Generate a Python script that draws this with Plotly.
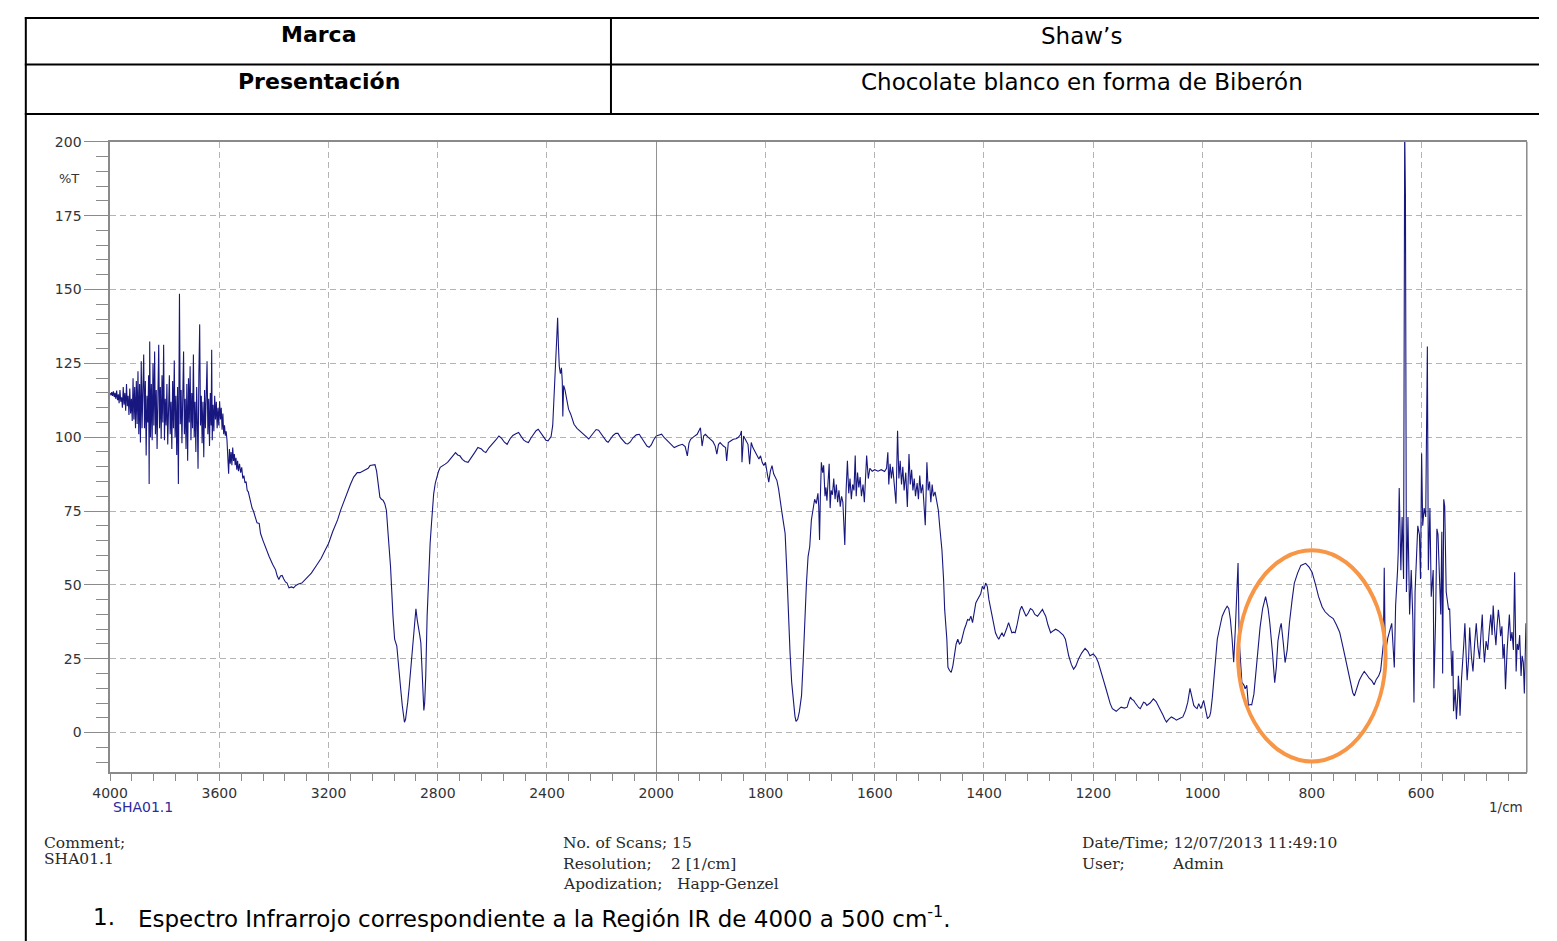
import plotly.graph_objects as go

W, H = 1557, 941


def px(x):
    return x / W


def py(y):
    return 1 - y / H


# ---------------------------------------------------------------------------
# IR spectrum (%T vs wavenumber, cm-1), sample SHA01.1
# ---------------------------------------------------------------------------

# 4000-3500 cm-1: noisy high-frequency end + start of the O-H band
band_noise_high = [
    (4000, 115.0), (3997, 114.2), (3994, 115.3), (3991, 114.0), (3988, 115.5),
    (3985, 113.6), (3982, 115.0), (3979, 113.0), (3976, 115.8), (3973, 112.5),
    (3970, 114.5), (3967, 111.5), (3964, 116.0), (3961, 112.0), (3958, 113.5),
    (3955, 110.0), (3952, 117.0), (3949, 111.0), (3946, 115.0), (3943, 109.0),
    (3940, 118.0), (3937, 110.5), (3934, 114.0), (3931, 107.5), (3928, 116.5),
    (3925, 108.0), (3922, 113.0), (3919, 105.5), (3916, 120.0), (3913, 106.0),
    (3910, 117.0), (3907, 103.0), (3904, 119.0), (3901, 104.5), (3898, 122.3),
    (3895, 101.0), (3892, 118.0), (3889, 98.2), (3886, 125.7), (3883, 103.0),
    (3880, 116.0), (3877, 128.0), (3874, 103.0), (3871, 119.0), (3868, 93.8),
    (3865, 114.0), (3862, 105.0), (3859, 121.0), (3857, 84.2), (3855, 132.4),
    (3852, 100.0), (3849, 118.0), (3846, 99.0), (3843, 125.0), (3840, 104.0),
    (3837, 129.0), (3834, 101.0), (3831, 116.0), (3828, 96.0), (3825, 124.0),
    (3822, 131.3), (3819, 103.0), (3816, 117.0), (3813, 99.5), (3810, 121.0),
    (3807, 105.0), (3804, 131.3), (3801, 99.0), (3798, 113.0), (3795, 104.0),
    (3792, 118.0), (3789, 97.5), (3786, 115.0), (3783, 121.0), (3780, 101.0),
    (3777, 112.0), (3774, 96.0), (3771, 119.0), (3768, 103.0), (3765, 126.0),
    (3762, 100.0), (3759, 114.0), (3756, 94.0), (3753, 117.0), (3750, 84.2),
    (3746, 148.6), (3743, 104.4), (3740, 116.0), (3737, 98.0), (3734, 122.0),
    (3731, 129.0), (3728, 101.0), (3725, 113.0), (3722, 96.0), (3719, 118.0),
    (3716, 92.0), (3713, 120.0), (3710, 105.0), (3707, 124.0), (3704, 99.0),
    (3701, 115.0), (3698, 103.0), (3695, 128.0), (3692, 100.0), (3689, 112.0),
    (3686, 95.0), (3683, 117.0), (3680, 102.0), (3678, 89.3), (3675, 121.0),
    (3672, 138.2), (3669, 104.0), (3666, 114.0), (3663, 98.0), (3660, 112.0),
    (3657, 93.2), (3654, 116.0), (3651, 103.0), (3648, 118.0), (3645, 125.7),
    (3642, 101.0), (3639, 113.0), (3636, 97.0), (3633, 115.0), (3630, 104.0),
    (3628, 129.6), (3626, 99.0), (3623, 111.0), (3620, 102.0), (3617, 114.0),
    (3614, 106.0), (3611, 112.0), (3608, 103.0), (3605, 110.0), (3602, 104.0),
    (3599, 112.2), (3596, 106.0), (3593, 110.0), (3590, 102.5), (3587, 108.0),
    (3584, 101.0), (3581, 104.0), (3578, 100.5), (3575, 102.0), (3572, 99.0),
    (3569, 94.5), (3566, 87.6), (3563, 96.0), (3560, 91.0), (3557, 95.0),
    (3554, 90.5), (3551, 96.5), (3548, 92.0), (3545, 94.3), (3542, 90.5),
    (3539, 93.0), (3536, 89.0), (3533, 92.0), (3530, 88.5), (3526, 91.0),
    (3522, 88.0), (3518, 89.8), (3514, 86.0), (3510, 87.0), (3506, 84.5),
    (3502, 85.0),
]

# 3500-3050 cm-1: broad O-H band
band_oh = [
    (3498, 82.0), (3494, 81.5), (3490, 80.0), (3485, 77.5), (3480, 76.0),
    (3475, 75.0), (3470, 73.5), (3462, 71.0), (3454, 70.8), (3449, 67.4),
    (3440, 65.0), (3430, 62.5), (3418, 59.7), (3405, 57.0), (3394, 55.1),
    (3388, 53.0), (3382, 51.8), (3376, 53.0), (3370, 53.2), (3364, 52.0),
    (3358, 51.0), (3352, 50.6), (3345, 49.0), (3336, 49.3), (3328, 49.0),
    (3320, 49.8), (3310, 50.3), (3298, 50.6), (3280, 52.3), (3263, 54.0),
    (3245, 56.5), (3227, 59.0), (3214, 61.5), (3200, 64.0), (3185, 68.0),
    (3167, 72.0), (3155, 75.5), (3143, 78.5), (3130, 82.0), (3120, 84.0),
    (3108, 86.5), (3095, 88.0), (3085, 88.0), (3075, 88.6), (3065, 89.0),
    (3055, 89.5),
]

# 3050-2780 cm-1: C-H stretching doublet
band_ch = [
    (3048, 90.4), (3040, 90.6), (3030, 90.7), (3024, 88.5), (3018, 83.0),
    (3012, 79.7), (3006, 79.0), (3000, 78.6), (2994, 77.5), (2988, 75.2),
    (2982, 67.4), (2973, 56.2), (2964, 39.4), (2958, 31.6), (2950, 29.3),
    (2945, 25.0), (2940, 19.2), (2935, 14.0), (2930, 9.2), (2926, 5.5),
    (2922, 3.5), (2918, 4.5), (2914, 7.0), (2910, 10.3), (2904, 16.0),
    (2898, 22.6), (2892, 30.0), (2886, 37.2), (2880, 41.9), (2875, 38.0),
    (2871, 35.0), (2866, 33.0), (2862, 30.4), (2857, 17.0), (2853, 9.0),
    (2851, 7.5), (2848, 10.0), (2844, 19.2), (2839, 39.4), (2833, 54.0),
    (2828, 64.0), (2823, 70.8), (2819, 76.0), (2815, 80.8), (2809, 84.5),
    (2803, 87.0), (2797, 88.5), (2791, 89.8), (2782, 90.5),
]

# 2780-2000 cm-1: baseline with fringes and the CO2 feature
band_plateau = [
    (2773, 90.9), (2764, 91.5), (2755, 92.6), (2745, 93.6), (2735, 94.8),
    (2727, 94.0), (2719, 93.7), (2710, 92.5), (2700, 91.8), (2689, 91.5),
    (2677, 93.0), (2665, 94.8), (2653, 96.5), (2640, 96.0), (2632, 95.2),
    (2624, 94.8), (2612, 96.5), (2600, 97.6), (2588, 99.0), (2576, 100.4),
    (2566, 99.6), (2556, 98.3), (2546, 97.6), (2535, 99.5), (2525, 100.6),
    (2514, 101.2), (2504, 101.6), (2494, 100.2), (2485, 99.0), (2476, 98.5),
    (2468, 98.2), (2458, 99.8), (2450, 101.0), (2440, 102.2), (2432, 102.7),
    (2422, 101.5), (2412, 100.0), (2404, 99.0), (2396, 98.8), (2390, 99.5),
    (2385, 100.2), (2379, 104.0), (2374, 112.0), (2369, 124.0), (2364, 134.0),
    (2361, 140.4), (2358, 131.0), (2355, 124.0), (2351, 121.5), (2347, 123.5),
    (2344, 119.0), (2342, 107.0), (2339, 117.5), (2334, 116.0), (2328, 113.0),
    (2321, 109.5), (2313, 107.8), (2307, 106.0), (2301, 104.4), (2290, 103.0),
    (2280, 102.2), (2271, 101.6), (2260, 100.5), (2247, 99.4), (2238, 100.5),
    (2228, 101.8), (2220, 102.6), (2211, 102.4), (2200, 101.0), (2190, 99.5),
    (2182, 98.6), (2176, 98.3), (2168, 99.2), (2158, 100.6), (2148, 101.3),
    (2140, 101.3), (2130, 99.8), (2120, 98.6), (2112, 97.9), (2104, 97.7),
    (2095, 98.4), (2085, 99.8), (2073, 100.8), (2062, 101.0), (2052, 99.5),
    (2043, 98.0), (2034, 97.0), (2026, 96.6), (2018, 97.4), (2010, 99.0),
    (2005, 99.9), (2000, 100.4),
]

# 2000-1713 cm-1: C=O stretching band
band_carbonyl = [
    (2000, 100.4), (1995, 100.8), (1990, 101.0), (1986, 100.0), (1982, 99.3),
    (1975, 98.0), (1967, 96.5), (1959, 97.2), (1952, 97.6), (1947, 96.8),
    (1943, 93.7), (1940, 98.0), (1937, 99.3), (1931, 100.2), (1925, 101.0),
    (1919, 103.2), (1916, 97.0), (1913, 100.5), (1910, 101.0), (1905, 100.0),
    (1901, 99.3), (1896, 98.5), (1892, 97.0), (1889, 94.3), (1886, 97.5),
    (1883, 98.2), (1877, 97.0), (1873, 96.5), (1871, 92.0), (1868, 98.2),
    (1863, 98.8), (1859, 99.3), (1854, 99.5), (1850, 99.9), (1846, 100.8),
    (1844, 102.1), (1843, 91.5), (1840, 100.4), (1836, 99.0), (1832, 97.6),
    (1829, 90.9), (1826, 98.2), (1823, 96.5), (1820, 95.4), (1816, 94.0),
    (1812, 92.6), (1809, 93.7), (1806, 91.5), (1803, 90.4), (1800, 91.5),
    (1797, 88.0), (1794, 84.8), (1791, 88.5), (1788, 90.4), (1785, 87.6),
    (1782, 86.5), (1779, 85.3), (1776, 82.5), (1773, 79.2), (1770, 74.7),
    (1767, 71.0), (1764, 67.4), (1761, 55.0), (1758, 39.4), (1755, 27.0),
    (1752, 17.0), (1749, 10.0), (1746, 5.5), (1744, 3.8), (1741, 4.5),
    (1738, 7.0), (1734, 12.5), (1731, 24.0), (1728, 39.4), (1725, 50.5),
    (1722, 59.6), (1719, 62.9), (1716, 71.9), (1713, 75.3),
]

# 1713-1484 cm-1: noisy region after the carbonyl band
band_noise_mid = [
    (1710, 79.0), (1707, 77.5), (1704, 81.0), (1702.5, 76.5), (1701, 65.2),
    (1699.5, 80.0), (1697.7, 91.5), (1695.3, 88.0), (1693.5, 90.5), (1691, 80.0),
    (1689.3, 83.0), (1687.5, 78.5), (1685.2, 85.0), (1683.4, 91.0), (1681.6, 76.0),
    (1679.8, 82.0), (1677.4, 80.5), (1675, 86.0), (1672.6, 79.0), (1670.3, 84.0),
    (1667.9, 78.0), (1665.5, 82.0), (1663.1, 76.5), (1660.7, 80.0), (1658.3, 78.0),
    (1654.8, 63.5), (1652.4, 82.0), (1650, 92.0), (1647.6, 81.0), (1645.2, 86.0),
    (1642.8, 79.0), (1640.4, 84.0), (1638, 82.0), (1635.7, 93.8), (1633.9, 80.0),
    (1631.5, 88.0), (1629.1, 83.0), (1626.7, 86.5), (1624.3, 80.0), (1621.4, 84.0),
    (1619, 78.0), (1616.6, 88.0), (1614.8, 93.8), (1611.8, 86.0), (1608.9, 89.5),
    (1604.7, 88.5), (1600, 89.0), (1594, 88.5), (1588, 89.0), (1582, 88.4),
    (1578.4, 89.5), (1576, 94.9), (1574.3, 84.0), (1571.9, 91.0), (1569.5, 86.0),
    (1567.1, 90.0), (1564.1, 84.0), (1561.1, 77.5), (1558.2, 102.2), (1555.8, 86.0),
    (1553.4, 92.0), (1551, 84.0), (1548.6, 90.0), (1546.2, 82.0), (1543.2, 88.0),
    (1540.3, 76.4), (1537.3, 94.3), (1534.9, 84.0), (1532.5, 89.0), (1530.1, 82.0),
    (1527.7, 86.0), (1525.4, 80.0), (1522.4, 84.5), (1520, 79.0), (1517.6, 87.0),
    (1515.2, 81.0), (1512.2, 84.0), (1509.8, 78.0), (1507.5, 70.2), (1504.5, 91.5),
    (1502.1, 82.0), (1499.7, 85.0), (1497.3, 78.0), (1494.9, 84.0), (1492.6, 80.0),
    (1489.6, 81.5), (1486.6, 78.0), (1483.6, 75.3),
]

# 1481-1025 cm-1: fingerprint region
band_fingerprint = [
    (1481, 69.7), (1477, 61.8), (1474, 51.8), (1472, 41.7), (1468, 31.6),
    (1466, 22.1), (1463, 21.0), (1460, 20.4), (1457, 22.6), (1454, 27.1),
    (1451, 30.0), (1448, 31.6), (1445, 30.0), (1442, 30.5), (1439, 33.0),
    (1436, 35.0), (1433, 36.5), (1430, 38.3), (1427, 38.0), (1424, 39.4),
    (1421, 37.2), (1418, 41.0), (1415, 43.9), (1412, 45.0), (1409, 46.2),
    (1406, 47.0), (1403, 49.5), (1400, 48.5), (1397, 50.6), (1394, 49.5),
    (1391, 45.0), (1388, 42.0), (1385, 39.4), (1382, 36.0), (1379, 33.8),
    (1376, 32.5), (1373, 31.6), (1370, 32.8), (1367, 33.8), (1364, 32.5),
    (1361, 33.8), (1358, 35.5), (1355, 37.2), (1352, 35.0), (1349, 33.8),
    (1346, 34.0), (1343, 33.8), (1340, 36.0), (1337, 39.0), (1334, 41.5),
    (1331, 42.8), (1327, 41.0), (1323, 39.4), (1319, 40.5), (1315, 42.0),
    (1311, 41.5), (1307, 40.0), (1302, 39.4), (1298, 40.5), (1293, 41.7),
    (1290, 40.5), (1287, 39.4), (1283, 36.5), (1278, 33.8), (1273, 34.5),
    (1269, 35.0), (1264, 34.5), (1260, 33.8), (1255, 33.0), (1251, 31.6),
    (1248, 29.0), (1245, 26.0), (1240, 23.0), (1236, 21.5), (1232, 22.5),
    (1227, 24.9), (1221, 27.0), (1215, 28.5), (1210, 27.5), (1206, 26.0),
    (1200, 26.6), (1195, 25.5), (1191, 23.8), (1186, 21.0), (1182, 18.2),
    (1177, 15.0), (1173, 12.0), (1169, 9.8), (1165, 8.1), (1161, 7.6),
    (1158, 7.2), (1153, 8.0), (1149, 8.6), (1143, 8.3), (1138, 8.6),
    (1135, 10.5), (1132, 12.0), (1129, 11.2), (1126, 10.9), (1123, 10.0),
    (1120, 9.2), (1117, 8.5), (1114, 8.1), (1111, 9.5), (1108, 10.3),
    (1105, 10.0), (1102, 9.2), (1096, 10.0), (1090, 11.4), (1085, 10.5),
    (1081, 9.2), (1076, 7.5), (1072, 5.8), (1069, 4.5), (1066, 3.6),
    (1062, 4.5), (1057, 5.3), (1052, 4.8), (1048, 4.2), (1042, 4.8),
    (1036, 5.3), (1031, 7.5), (1027, 10.3),
]

# 1023-672 cm-1: bands inside the highlighted zone
band_circled = [
    (1023, 15.0), (1019, 11.5), (1016, 9.2), (1013, 8.5), (1010, 8.1),
    (1007, 9.8), (1003, 8.1), (998, 10.9), (994, 7.5), (991, 4.7),
    (987, 5.5), (985, 7.0), (982, 12.0), (979, 18.2), (976, 25.0),
    (973, 31.6), (968, 36.0), (964, 39.4), (959, 41.5), (955, 42.8),
    (952, 42.0), (949, 38.3), (946, 32.0), (943, 23.8), (940, 35.0),
    (937, 46.2), (935, 57.4), (933, 31.6), (930, 20.0), (928, 17.0),
    (924, 16.0), (922, 14.8), (919, 16.0), (916, 9.2), (913, 9.5),
    (910, 9.4), (906, 13.0), (903.6, 17.7), (899, 27.0), (894.7, 35.6),
    (890, 42.0), (884.6, 46.0), (880, 42.0), (876.8, 37.0), (872, 27.0),
    (867.9, 16.9), (865, 22.0), (862, 31.0), (858, 35.5), (856, 37.0),
    (852, 30.0), (848.9, 23.7), (845, 28.0), (841, 37.0), (836, 45.0),
    (832, 50.6), (826, 54.0), (820, 56.6), (815, 57.0), (811.4, 57.3),
    (805, 56.0), (799.5, 54.3), (793, 50.0), (787.6, 46.0), (781, 42.5),
    (775.7, 40.9), (768, 39.5), (760.8, 38.6), (755, 36.5), (749, 34.0),
    (743, 29.0), (737, 23.7), (732, 19.5), (728, 16.2), (725, 13.5),
    (722, 12.4), (718, 14.5), (713, 17.7), (708, 19.5), (704, 20.7),
    (699, 19.5), (695, 18.4), (690, 17.5), (686, 16.2), (682, 18.0),
    (677.5, 19.2), (674, 21.0), (671.6, 25.0),
]

# 670-406 cm-1: noisy low-frequency end
band_noise_low = [
    (669, 30.0), (667.4, 55.8), (665.6, 26.6), (661, 32.0), (656.7, 35.6),
    (653.7, 37.0), (649, 22.0), (646.6, 43.0), (643, 55.0), (641.8, 61.0),
    (640, 82.8), (637, 55.0), (634.7, 73.0), (632, 52.0), (630, 205.0),
    (628.6, 182.0), (626.8, 47.6), (624, 73.0), (621, 40.0), (618, 55.0),
    (615, 38.0), (613, 10.2), (611, 47.6), (608, 60.0), (606, 70.0),
    (603, 67.0), (601, 52.0), (599, 94.5), (597, 70.0), (594.4, 76.0),
    (591.5, 73.0), (588.5, 130.7), (586.7, 55.0), (583.8, 76.0), (581.4, 46.0),
    (577.8, 55.0), (576.5, 15.0), (573.6, 37.0), (571, 69.0), (569, 67.0),
    (565.8, 49.0), (564, 40.0), (562, 68.0), (560.5, 20.0), (558.5, 79.0),
    (556.7, 76.5), (554, 47.6), (549.6, 41.6), (547.7, 42.0), (543.6, 19.2),
    (541.8, 27.7), (540.6, 7.2), (537.6, 14.7), (535.3, 4.5), (533, 12.0),
    (531.7, 19.2), (530, 13.5), (528.7, 5.7), (526, 18.0), (524, 22.5),
    (521.8, 30.0), (519.8, 37.0), (517.5, 28.0), (515.7, 17.7), (513, 25.0),
    (511, 35.6), (508, 26.0), (505, 20.7), (502, 30.0), (499, 37.0),
    (496, 29.0), (493, 25.0), (490.5, 33.0), (488, 40.0), (486, 30.0),
    (484, 23.7), (481, 31.0), (478, 28.0), (475, 35.0), (472.3, 40.0),
    (470, 33.0), (468, 43.0), (465.5, 35.0), (463, 29.6), (461, 36.0),
    (458.5, 41.6), (456.5, 38.0), (454.4, 32.6), (452, 36.0), (450, 25.0),
    (447.8, 30.0), (445.5, 14.7), (442.5, 28.0), (440.5, 36.0), (438.4, 40.0),
    (436, 31.0), (433.6, 34.0), (431, 28.0), (428.8, 54.3), (426, 20.7),
    (424, 30.0), (421.7, 28.0), (419.5, 33.0), (417, 19.2), (415, 26.0),
    (412.8, 23.7), (411, 13.2), (409.5, 25.0), (408, 37.0), (407, 30.0),
]

high_range = band_noise_high + band_oh + band_ch + band_plateau
low_range = (band_carbonyl + band_noise_mid + band_fingerprint
             + band_circled + band_noise_low)

wn_high = [p[0] for p in high_range]
t_high = [p[1] for p in high_range]
wn_low = [p[0] for p in low_range]
t_low = [p[1] for p in low_range]

# Axis ticks: the scale doubles below 2000 cm-1
x_major_high = [4000, 3600, 3200, 2800, 2400, 2000]
x_major_low = [1800, 1600, 1400, 1200, 1000, 800, 600]
y_major = [0, 25, 50, 75, 100, 125, 150, 175, 200]

# Header table rows
header_rows = [("Marca", "Shaw\u2019s"),
               ("Presentación", "Chocolate blanco en forma de Biberón")]

# ---------------------------------------------------------------------------
SPEC_COLOR = "#17177f"
AXIS_COLOR = "#8a8a8a"
GRID_COLOR = "#b4b4b4"
TICK_FONT = dict(family="DejaVu Sans", size=14, color="#333333")

X1_DOM = [px(94.3), px(653.3)]
X2_DOM = [px(653.3), px(1544.5)]
Y_DOM = [py(771), py(135)]

fig = go.Figure()
fig.add_trace(go.Scatter(x=wn_high, y=t_high, xaxis="x", yaxis="y",
                         mode="lines", line=dict(color=SPEC_COLOR, width=1.1),
                         hoverinfo="x+y", showlegend=False))
fig.add_trace(go.Scatter(x=wn_low, y=t_low, xaxis="x2", yaxis="y",
                         mode="lines", line=dict(color=SPEC_COLOR, width=1.1),
                         hoverinfo="x+y", showlegend=False))

xcommon = dict(
    anchor="y", ticks="outside", ticklen=7, tickwidth=1, tickcolor=AXIS_COLOR,
    showgrid=True, gridcolor=GRID_COLOR, gridwidth=1, griddash="6px,4px",
    showline=True, linecolor=AXIS_COLOR, linewidth=1.5, mirror=True,
    zeroline=False, tickfont=TICK_FONT, fixedrange=True,
)

fig.update_layout(
    width=W, height=H, autosize=False,
    margin=dict(l=0, r=0, t=0, b=0, pad=0),
    paper_bgcolor="white", plot_bgcolor="white",
    showlegend=False,
    xaxis=dict(domain=X1_DOM, range=[4000, 2000], tickmode="array",
               tickvals=x_major_high, ticktext=[str(v) for v in x_major_high],
               minor=dict(dtick=80, tick0=0, ticks="outside", ticklen=7,
                          tickcolor=AXIS_COLOR, showgrid=False),
               **xcommon),
    xaxis2=dict(domain=X2_DOM, range=[2000, 406.5], tickmode="array",
                tickvals=x_major_low, ticktext=[str(v) for v in x_major_low],
                minor=dict(dtick=40, tick0=0, ticks="outside", ticklen=7,
                           tickcolor=AXIS_COLOR, showgrid=False),
                **xcommon),
    yaxis=dict(domain=Y_DOM, range=[-13.5, 200], anchor="x", tickmode="array",
               tickvals=y_major, ticktext=[str(v) for v in y_major],
               ticks="outside", ticklen=24, tickwidth=1.2, tickcolor=AXIS_COLOR,
               minor=dict(dtick=5, tick0=0, ticks="outside", ticklen=12,
                          tickcolor=AXIS_COLOR, showgrid=False),
               showgrid=True, gridcolor=GRID_COLOR, gridwidth=1,
               griddash="6px,4px", showline=True, linecolor=AXIS_COLOR,
               linewidth=1.5, zeroline=False, tickfont=TICK_FONT,
               fixedrange=True),
)

shapes = []
# right frame edge of the plot
shapes.append(dict(type="line", xref="paper", yref="paper",
                   x0=X2_DOM[1], x1=X2_DOM[1], y0=Y_DOM[0], y1=Y_DOM[1],
                   line=dict(color=AXIS_COLOR, width=1.5)))
# solid marker of the scale change at 2000 cm-1
shapes.append(dict(type="line", xref="x2", yref="y domain",
                   x0=2000, x1=2000, y0=0, y1=1,
                   line=dict(color="#555555", width=1.2)))
# highlighted zone around 800 cm-1
shapes.append(dict(type="circle", xref="x2", yref="y",
                   x0=935, x1=665, y0=-9.8, y1=61.7,
                   line=dict(color="#F79646", width=4)))

# header table rulings
BLACK = dict(color="black", width=2)
for yy in (10, 57, 107):
    shapes.append(dict(type="line", xref="paper", yref="paper",
                       x0=px(7), x1=1.0, y0=py(yy), y1=py(yy), line=BLACK))
shapes.append(dict(type="line", xref="paper", yref="paper",
                   x0=px(607), x1=px(607), y0=py(10), y1=py(107), line=BLACK))
shapes.append(dict(type="line", xref="paper", yref="paper",
                   x0=px(8), x1=px(8), y0=py(9), y1=0.0, line=BLACK))
fig.update_layout(shapes=shapes)

ann = []


def label(text, x, y, size, family, color="black", xanchor="left", bold=False):
    if bold:
        text = "<b>" + text + "</b>"
    ann.append(dict(text=text, x=px(x), y=py(y), xref="paper", yref="paper",
                    xanchor=xanchor, yanchor="middle", showarrow=False,
                    font=dict(family=family, size=size, color=color)))


HEAD_FONT = "DejaVu Sans"
row_y = [27, 74]
for (left, right), yy in zip(header_rows, row_y):
    label(left, 308, yy, 22, HEAD_FONT, xanchor="center", bold=True)
    label(right, 1089, yy + 1, 23, HEAD_FONT, xanchor="center")

# axis captions
label("%T", 52, 172, 13, "DejaVu Sans", color="#333333", xanchor="center")
label("SHA01.1", 95, 806, 14, "DejaVu Sans", color="#2b2b9b")
label("1/cm", 1543, 806, 13.5, "DejaVu Sans", color="#333333", xanchor="right")

# instrument report footer
SERIF = "DejaVu Serif"
FOOT = 15.5
FOOT_C = "#2a2a2a"
label("Comment;", 25, 842, FOOT, SERIF, FOOT_C)
label("SHA01.1", 25, 858, FOOT, SERIF, FOOT_C)
label("No. of Scans; 15", 556, 842, FOOT, SERIF, FOOT_C)
label("Resolution;", 556, 863, FOOT, SERIF, FOOT_C)
label("2 [1/cm]", 666, 863, FOOT, SERIF, FOOT_C)
label("Apodization;", 556, 884, FOOT, SERIF, FOOT_C)
label("Happ-Genzel", 673, 884, FOOT, SERIF, FOOT_C)
label("Date/Time; 12/07/2013 11:49:10", 1087, 842, FOOT, SERIF, FOOT_C)
label("User;", 1087, 863, FOOT, SERIF, FOOT_C)
label("Admin", 1179, 863, FOOT, SERIF, FOOT_C)

# figure caption
label("1.", 75, 917, 23, HEAD_FONT)
label("Espectro Infrarrojo correspondiente a la Región IR de 4000 a 500 cm<sup>-1</sup>.",
      121, 917, 23, HEAD_FONT)

fig.update_layout(annotations=ann)

# page without default body margin or scrollbars
page_css = ("document.documentElement.style.margin='0';"
            "document.documentElement.style.padding='0';"
            "document.documentElement.style.overflow='hidden';"
            "document.body.style.margin='0';"
            "document.body.style.padding='0';"
            "document.body.style.overflow='hidden';")

fig.write_html("out.html", post_script=page_css)
